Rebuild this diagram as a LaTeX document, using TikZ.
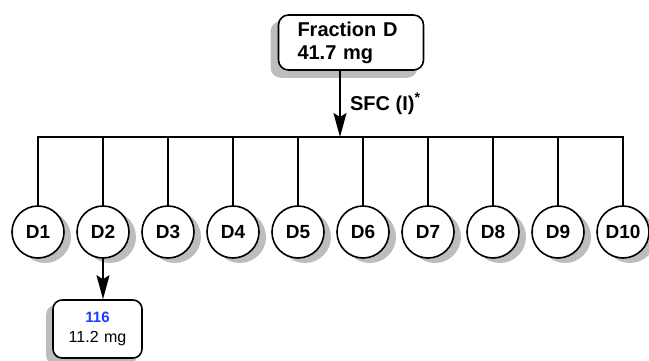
\documentclass[tikz,border=0pt]{standalone}
\usepackage{fontspec}
\setmainfont{Liberation Sans}
\usepackage{xcolor}
\usepackage{tikz}
\usetikzlibrary{arrows.meta,positioning,backgrounds}
\definecolor{ink}{HTML}{000000}
\definecolor{shadowgray}{HTML}{BDBDBD}
\definecolor{numblue}{HTML}{1A3CFF}

\begin{document}
\begin{tikzpicture}[
  x=1pt, y=-1pt,
  node distance=13pt,
  fraction/.style={
    rectangle,
    rounded corners=10pt,
    draw=ink,
    fill=white,
    line width=1.6pt,
    align=left,
    text width=107pt,
    inner xsep=19pt,
    minimum height=55pt,
    font=\fontsize{20}{23}\selectfont\bfseries
  },
  sub/.style={
    circle,
    draw=ink,
    fill=white,
    line width=1.6pt,
    inner sep=0pt,
    outer sep=0pt,
    minimum size=52pt,
    font=\fontsize{19}{21}\selectfont\bfseries
  },
  result/.style={
    fraction,
    rounded corners=9pt,
    align=center,
    text width=61pt,
    inner xsep=14pt,
    minimum height=58pt,
    font=\fontsize{16}{20}\selectfont
  },
  shadowfill/.style={fill=shadowgray,draw=none},
  tree/.style={line width=1.6pt,draw=ink},
  arrow/.style={-{Stealth[length=24pt,width=13pt,inset=4pt]},line width=1.6pt,draw=ink}
]
\useasboundingbox (0,0) rectangle (649,360);

% starting fraction and the split point
\node[fraction] (fracD) at (351,42.5) {Fraction D\\41.7 mg};
\coordinate (split) at (340,137);

% sub-fractions
\node[sub] (d1) at (38,232) {D1};
\node[sub,right=of d1] (d2) {D2};
\node[sub,right=of d2] (d3) {D3};
\node[sub,right=of d3] (d4) {D4};
\node[sub,right=of d4] (d5) {D5};
\node[sub,right=of d5] (d6) {D6};
\node[sub,right=of d6] (d7) {D7};
\node[sub,right=of d7] (d8) {D8};
\node[sub,right=of d8] (d9) {D9};
\node[sub,right=of d9] (d10) {D10};

% isolated compound
\node[result] (cmpd) at (97.5,329) {{\fontsize{15}{18}\selectfont\bfseries\color{numblue}116}\\11.2 mg};

% shadows
\begin{scope}[on background layer]
\fill[shadowfill,rounded corners=10pt] ([shift={(-7pt,-7pt)}]fracD.south west) rectangle ([shift={(-7pt,-7pt)}]fracD.north east);
\fill[shadowfill,rounded corners=9pt] ([shift={(-6pt,-6pt)}]cmpd.south west) rectangle ([shift={(-6pt,-6pt)}]cmpd.north east);
\foreach \n in {d1,d2,d3,d4,d5,d6,d7,d8,d9,d10}
  \fill[shadowfill] ([shift={(7pt,-5pt)}]\n.center) circle[radius=26pt];
\end{scope}

\draw[arrow] (fracD.south -| split) -- node[midway,right=6pt,font=\fontsize{20}{23}\selectfont\bfseries] (sfc) {SFC (I)\textsuperscript{*}} (split);
\draw[tree] (d1.north) -- (d1.north |- split) -- (d10.north |- split) -- (d10.north);
\draw[tree] (d2.north) -- (d2.north |- split);
\draw[tree] (d3.north) -- (d3.north |- split);
\draw[tree] (d4.north) -- (d4.north |- split);
\draw[tree] (d5.north) -- (d5.north |- split);
\draw[tree] (d6.north) -- (d6.north |- split);
\draw[tree] (d7.north) -- (d7.north |- split);
\draw[tree] (d8.north) -- (d8.north |- split);
\draw[tree] (d9.north) -- (d9.north |- split);
\draw[arrow] (d2.south) -- (d2.south |- cmpd.north);
\end{tikzpicture}
\end{document}
